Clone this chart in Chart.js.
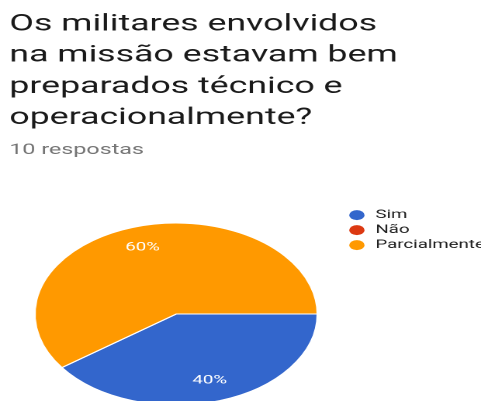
<!DOCTYPE html>
<html>
<head>
<meta charset="utf-8">
<script src="https://cdn.jsdelivr.net/npm/chart.js@4"></script>
<style>
  html, body { margin: 0; padding: 0; background: #fff; overflow: hidden; }
  #grafico { width: 481px; height: 422px; }
</style>
</head>
<body>
<canvas id="grafico" width="310" height="422" style="width:481px;height:422px"></canvas>
<script>
const titulo = [
    'Os militares envolvidos',
    'na missão estavam bem',
    'preparados técnico e',
    'operacionalmente?'
];
const categorias = ['Sim', 'Não', 'Parcialmente'];
const respostas = [4, 0, 6];
const cores = ['#3366cc', '#dc3912', '#ff9900'];

const total = respostas.reduce((a, b) => a + b, 0);

// percent labels inside each slice, like google forms
const rotulos = {
    id: 'rotulos',
    afterDatasetsDraw(chart) {
        const ctx = chart.ctx;
        const meta = chart.getDatasetMeta(0);
        ctx.save();
        ctx.font = '12px Roboto';
        ctx.fillStyle = '#fff';
        ctx.textAlign = 'center';
        ctx.textBaseline = 'middle';
        meta.data.forEach((arc, i) => {
            const v = respostas[i];
            if (!v) return;
            const p = arc.getProps(['x', 'y', 'startAngle', 'endAngle', 'outerRadius'], true);
            const meio = (p.startAngle + p.endAngle) / 2;
            const r = p.outerRadius * 0.77;
            ctx.fillText(Math.round(v / total * 100) + '%', p.x + Math.cos(meio) * r, p.y + Math.sin(meio) * r);
        });
        ctx.restore();
    }
};

Chart.defaults.font.family = 'Roboto';

const ctx = document.getElementById('grafico').getContext('2d');
new Chart(ctx, {
    type: 'pie',
    data: {
        labels: categorias,
        datasets: [{
            data: respostas,
            backgroundColor: cores,
            borderColor: '#fff',
            borderWidth: 1,
            radius: 91
        }]
    },
    options: {
        responsive: false,
        devicePixelRatio: 2,
        animation: false,
        events: [],
        rotation: 90,
        layout: { padding: { left: 6, right: 0, top: 0, bottom: 0 } },
        plugins: {
            title: {
                display: true,
                text: titulo,
                align: 'start',
                color: '#1a1a1a',
                font: { size: 23, weight: 'normal', lineHeight: 1.36 },
                padding: { top: 9, bottom: 0 }
            },
            subtitle: {
                display: true,
                text: total + ' respostas',
                align: 'start',
                color: '#757575',
                font: { size: 15, weight: 'normal', lineHeight: 1.2 },
                padding: { top: 7, bottom: 47 }
            },
            legend: {
                position: 'right',
                align: 'start',
                fullSize: false,
                maxWidth: 89,
                labels: {
                    usePointStyle: true,
                    pointStyle: 'circle',
                    boxWidth: 12,
                    boxHeight: 7,
                    padding: 3,
                    color: '#222',
                    font: { size: 12 },
                    // no white outline round the dots
                    generateLabels: (chart) =>
                        Chart.overrides.pie.plugins.legend.labels.generateLabels(chart)
                            .map(item => ({ ...item, lineWidth: 0 }))
                }
            },
            tooltip: { enabled: false }
        }
    },
    plugins: [rotulos]
});
</script>
</body>
</html>
